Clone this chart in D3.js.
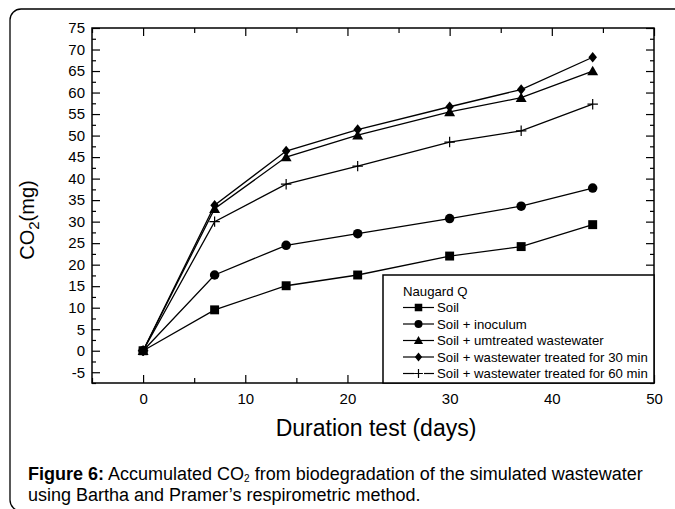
<!DOCTYPE html>
<html>
<head>
<meta charset="utf-8">
<script src="https://cdn.jsdelivr.net/npm/d3@7"></script>
<style>
  html, body { margin: 0; padding: 0; background: #fff; }
  svg { display: block; font-family: "Liberation Sans", Arial, sans-serif; }
</style>
</head>
<body>
<svg id="chart" width="675" height="509"></svg>
<script>
// ---- data ----
const days = [0, 7, 14, 21, 30, 37, 44];
const soil = [0, 9.5, 15.1, 17.6, 22.0, 24.2, 29.3];
const inoculum = [0, 17.6, 24.5, 27.2, 30.7, 33.6, 37.8];
const untreated = [0, 33.0, 45.0, 50.1, 55.5, 58.8, 65.0];
const treated30 = [0, 33.8, 46.4, 51.4, 56.7, 60.7, 68.2];
const treated60 = [0, 30.0, 38.7, 42.9, 48.5, 51.1, 57.3];
const seriesNames = ["Soil", "Soil + inoculum", "Soil + umtreated wastewater",
  "Soil + wastewater treated for 30 min", "Soil + wastewater treated for 60 min"];
const seriesMarkers = ["square", "circle", "triangle", "diamond", "plus"];
const xTickLabels = [0, 10, 20, 30, 40, 50];
const yTickLabels = [-5, 0, 5, 10, 15, 20, 25, 30, 35, 40, 45, 50, 55, 60, 65, 70, 75];
const legendTitle = "Naugard Q";
const xTitle = "Duration test (days)";

const seriesValues = [soil, inoculum, untreated, treated30, treated60];

const svg = d3.select("#chart");

// outer panel
svg.append("rect").attr("x", 10).attr("y", 9).attr("width", 690).attr("height", 502)
  .attr("rx", 11).attr("fill", "none").attr("stroke", "#000").attr("stroke-width", 1.3);

const x = d3.scaleLinear().domain([-5, 50]).range([92, 654]);
const y = d3.scaleLinear().domain([-7.5, 75]).range([383, 28]);

const xMinor = d3.range(-5, 51, 5).filter(v => v % 10 !== 0);
const yMinor = d3.range(-7.5, 75.1, 2.5).filter(v => v % 5 !== 0);

function styleAxis(g) {
  g.select(".domain").remove();
  g.selectAll("line").attr("stroke", "#000").attr("stroke-width", 1.2);
  g.selectAll("text").attr("fill", "#000").style("font-size", "15px")
    .style("font-family", "'Liberation Sans', Arial, sans-serif");
}
const fmt = d => String(d);

// bottom
svg.append("g").attr("transform", `translate(0,383)`)
  .call(d3.axisBottom(x).tickValues(xTickLabels).tickSize(-8).tickPadding(10).tickFormat(fmt))
  .call(styleAxis);
svg.append("g").attr("transform", `translate(0,383)`)
  .call(d3.axisBottom(x).tickValues(xMinor).tickSize(-5).tickFormat(""))
  .call(styleAxis);
// top
svg.append("g").attr("transform", `translate(0,28)`)
  .call(d3.axisTop(x).tickValues(xTickLabels).tickSize(-8).tickFormat(""))
  .call(styleAxis);
svg.append("g").attr("transform", `translate(0,28)`)
  .call(d3.axisTop(x).tickValues(xMinor).tickSize(-5).tickFormat(""))
  .call(styleAxis);
// left
svg.append("g").attr("transform", `translate(92,0)`)
  .call(d3.axisLeft(y).tickValues(yTickLabels).tickSize(-8).tickPadding(7).tickFormat(fmt))
  .call(styleAxis);
svg.append("g").attr("transform", `translate(92,0)`)
  .call(d3.axisLeft(y).tickValues(yMinor).tickSize(-4).tickFormat(""))
  .call(styleAxis);
// right
svg.append("g").attr("transform", `translate(654,0)`)
  .call(d3.axisRight(y).tickValues(yTickLabels).tickSize(-8).tickFormat(""))
  .call(styleAxis);
svg.append("g").attr("transform", `translate(654,0)`)
  .call(d3.axisRight(y).tickValues(yMinor).tickSize(-4).tickFormat(""))
  .call(styleAxis);

// frame
svg.append("rect").attr("x", x(-5)).attr("y", y(75))
  .attr("width", x(50) - x(-5)).attr("height", y(-7.5) - y(75))
  .attr("fill", "none").attr("stroke", "#000").attr("stroke-width", 1.5);

// markers
function marker(g, type, s) {
  if (type === "square") {
    g.append("rect").attr("x", -s * 0.47).attr("y", -s * 0.47).attr("width", s * 0.94).attr("height", s * 0.94).attr("fill", "#000");
  } else if (type === "circle") {
    g.append("circle").attr("r", s * 0.5).attr("fill", "#000");
  } else if (type === "triangle") {
    const w = s * 1.15, h = s * 1.0;
    g.append("path").attr("d", `M0,${-h * 0.55} L${w / 2},${h * 0.45} L${-w / 2},${h * 0.45} Z`).attr("fill", "#000");
  } else if (type === "diamond") {
    const w = s * 0.9, h = s * 1.1;
    g.append("path").attr("d", `M0,${-h / 2} L${w / 2},0 L0,${h / 2} L${-w / 2},0 Z`).attr("fill", "#000");
  } else if (type === "plus") {
    const a = s * 0.55;
    g.append("path").attr("d", `M${-a},0 L${a},0 M0,${-a} L0,${a}`).attr("stroke", "#000").attr("stroke-width", 1.2).attr("fill", "none");
  }
}

const line = d3.line().x((d, i) => x(days[i])).y(d => y(d));
const order = [4, 3, 2, 1, 0];
order.forEach(si => {
  svg.append("path").datum(seriesValues[si]).attr("d", line)
    .attr("fill", "none").attr("stroke", "#000").attr("stroke-width", 1.3);
});
order.forEach(si => {
  seriesValues[si].forEach((v, i) => {
    const g = svg.append("g").attr("transform", `translate(${x(days[i])},${y(v)})`);
    marker(g, seriesMarkers[si], 9.5);
  });
});

// legend
const lg = svg.append("g");
lg.append("rect").attr("x", 383).attr("y", 275).attr("width", 654 - 383).attr("height", 383 - 275)
  .attr("fill", "#fff").attr("stroke", "#000").attr("stroke-width", 1.5);
lg.append("text").attr("x", 403).attr("y", 296).text(legendTitle)
  .style("font-size", "13.2px").attr("fill", "#000");
seriesNames.forEach((name, i) => {
  const by = 312 + i * 16.5;
  const cy = by - 4.5;
  lg.append("line").attr("x1", 403).attr("x2", 434).attr("y1", cy).attr("y2", cy)
    .attr("stroke", "#000").attr("stroke-width", 1.2);
  if (seriesMarkers[i] === "plus") {
    lg.append("rect").attr("x", 414).attr("y", cy - 2).attr("width", 10).attr("height", 4).attr("fill", "#fff");
  }
  const g = lg.append("g").attr("transform", `translate(418.5,${cy})`);
  marker(g, seriesMarkers[i], 8);
  lg.append("text").attr("x", 437).attr("y", by).text(name)
    .style("font-size", "13.2px").attr("fill", "#000");
});

// axis titles
svg.append("text").attr("x", 376).attr("y", 436).attr("text-anchor", "middle")
  .style("font-size", "23px").attr("fill", "#000").text(xTitle);

const yt = svg.append("text").attr("transform", "translate(34,220) rotate(-90)")
  .attr("text-anchor", "middle").style("font-size", "20px").attr("fill", "#000");
yt.append("tspan").text("CO");
yt.append("tspan").attr("dy", 5).style("font-size", "15px").text("2");
yt.append("tspan").attr("dy", -5).text("(mg)");

// caption
const cap1 = svg.append("text").attr("x", 28).attr("y", 480).style("font-size", "18px").attr("fill", "#000");
cap1.append("tspan").style("font-weight", "bold").text("Figure 6:");
cap1.append("tspan").text(" Accumulated CO");
cap1.append("tspan").attr("dy", 2).style("font-size", "10px").text("2");
cap1.append("tspan").attr("dy", -2).text(" from biodegradation of the simulated wastewater");
svg.append("text").attr("x", 28).attr("y", 501).style("font-size", "18px").attr("fill", "#000")
  .text("using Bartha and Pramer\u2019s respirometric method.");
</script>
</body>
</html>
